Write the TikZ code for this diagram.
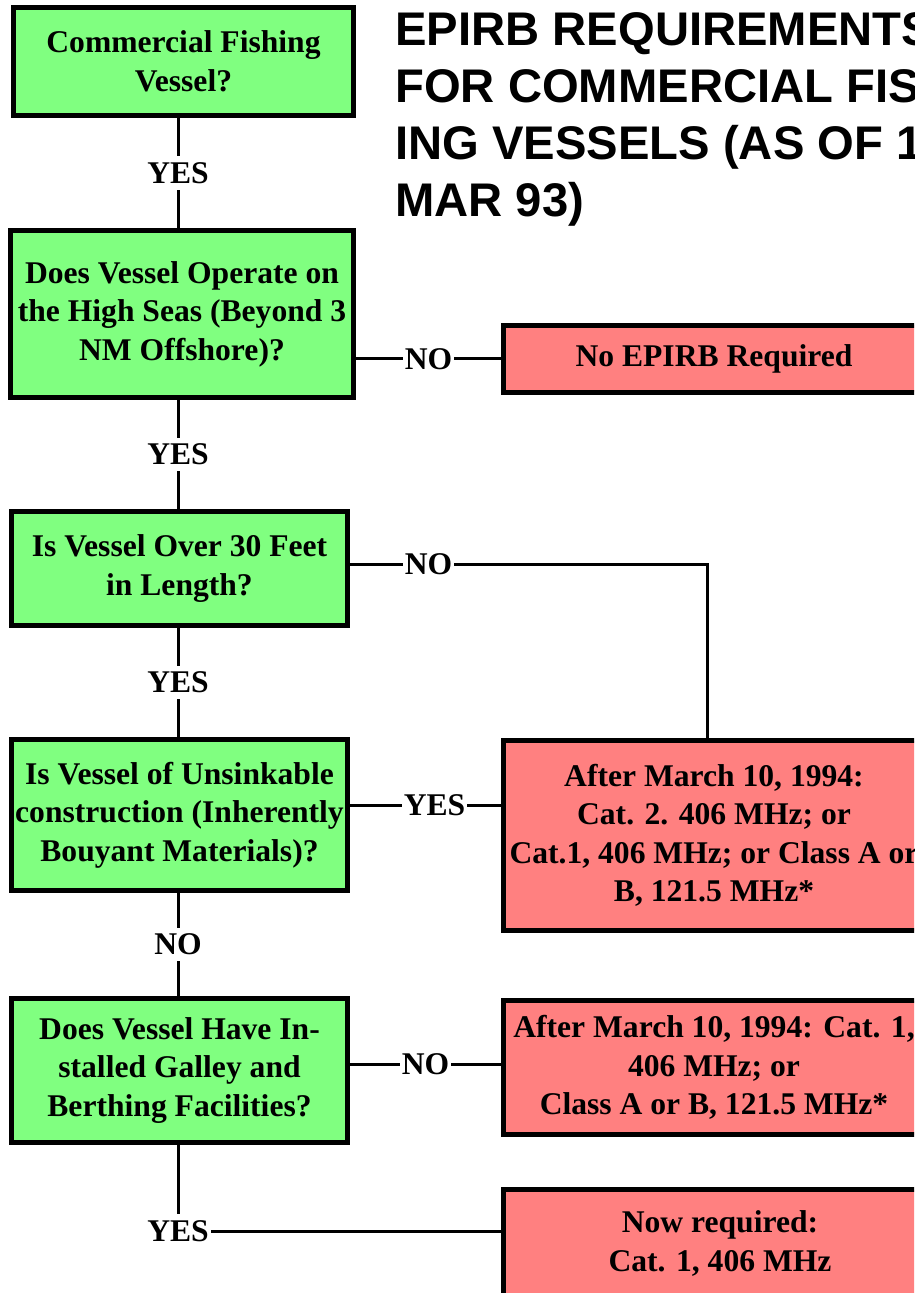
\documentclass[tikz,border=0pt]{standalone}
\usepackage{fontspec}
\setmainfont{Liberation Serif}
\newfontfamily\titlefont{Liberation Sans}
\usetikzlibrary{calc}
\definecolor{askgreen}{HTML}{80FF80}
\definecolor{rulered}{HTML}{FF8080}

\begin{document}
\begin{tikzpicture}[x=0.5pt, y=-0.5pt,
    question/.style={draw, line width=2.5pt, fill=askgreen, inner sep=0pt, align=center,
        font=\fontsize{15.8}{19.25}\selectfont\bfseries},
    ruling/.style={question, fill=rulered},
    answer/.style={fill=white, inner xsep=1pt, inner ysep=3pt, font=\fontsize{15.8}{19.25}\selectfont\bfseries},
    link/.style={line width=1.5pt}
]
\useasboundingbox (0,0) rectangle (914,1293);
\clip (0,0) rectangle (914,1293);

% title, runs off the right edge
\node[anchor=north west, inner sep=0pt, align=left,
    font=\titlefont\fontsize{23.6}{28.5}\selectfont\bfseries] (title) at (395,12)
    {EPIRB REQUIREMENTS\\FOR COMMERCIAL FISH-\\ING VESSELS (AS OF 1\\MAR 93)};

% questions
\node[question, minimum width=170pt, minimum height=54pt] (fishing) at (183.5,61.5) {Commercial Fishing\\Vessel?};
\node[question, minimum width=171.5pt, minimum height=83.5pt] (highseas) at (182,314) {Does Vessel Operate on\\the High Seas (Beyond 3\\NM Offshore)?};
\node[question, minimum width=168pt, minimum height=57pt] (length) at (179.5,568.5) {Is Vessel Over 30 Feet\\in Length?};
\node[question, minimum width=168pt, minimum height=75.5pt] (unsinkable) at (179.5,815) {Is Vessel of Unsinkable\\construction (Inherently\\Bouyant Materials)?};
\node[question, minimum width=168pt, minimum height=72pt] (galley) at (179.5,1070.5) {Does Vessel Have In-\\stalled Galley and\\Berthing Facilities?};

% rulings
\node[ruling, minimum width=210.5pt, minimum height=33.5pt] (none) at (714,359) {No EPIRB Required};
\node[ruling, minimum width=210.5pt, minimum height=95pt] (cattwo) at (714,835.5) {After March 10, 1994:\\Cat. 2. 406 MHz; or\\Cat.1, 406 MHz; or Class A or\\B, 121.5 MHz*};
\node[ruling, minimum width=210.5pt, minimum height=67pt] (catone) at (714,1067.5) {After March 10, 1994: Cat. 1,\\406 MHz; or\\Class A or B, 121.5 MHz*};
\node[ruling, minimum width=216.5pt, minimum height=54pt] (nowreq) at (720,1243.5) {Now required:\\Cat. 1, 406 MHz};

% down the left column
\coordinate (spine) at (178,0);
\draw[link] (fishing.south -| spine) -- node[answer]{YES} (highseas.north -| spine);
\draw[link] (highseas.south -| spine) -- node[answer]{YES} (length.north -| spine);
\draw[link] (length.south -| spine) -- node[answer]{YES} (unsinkable.north -| spine);
\draw[link] (unsinkable.south -| spine) -- node[answer]{NO} (galley.north -| spine);
\coordinate (turn) at (178,1231);
\draw[link] (galley.south -| spine) -- (turn) node[answer]{YES} -- (turn -| nowreq.west);

% across to the rulings
\coordinate (lengthout) at ([yshift=2.25pt]length.east);
\coordinate (unsinkout) at ([yshift=5pt]unsinkable.east);
\coordinate (galleyout) at ([yshift=3.25pt]galley.east);
\coordinate (cattwotop) at ([xshift=-3.5pt]cattwo.north);
\draw[link] (highseas.east |- none.west) -- node[answer]{NO} (none.west);
\draw[link] (lengthout) -- node[answer, pos=0.22]{NO} (lengthout -| cattwotop) -- (cattwotop);
\draw[link] (unsinkout) -- node[answer, pos=0.56]{YES} (unsinkout -| cattwo.west);
\draw[link] (galleyout) -- node[answer]{NO} (galleyout -| catone.west);
\end{tikzpicture}
\end{document}
